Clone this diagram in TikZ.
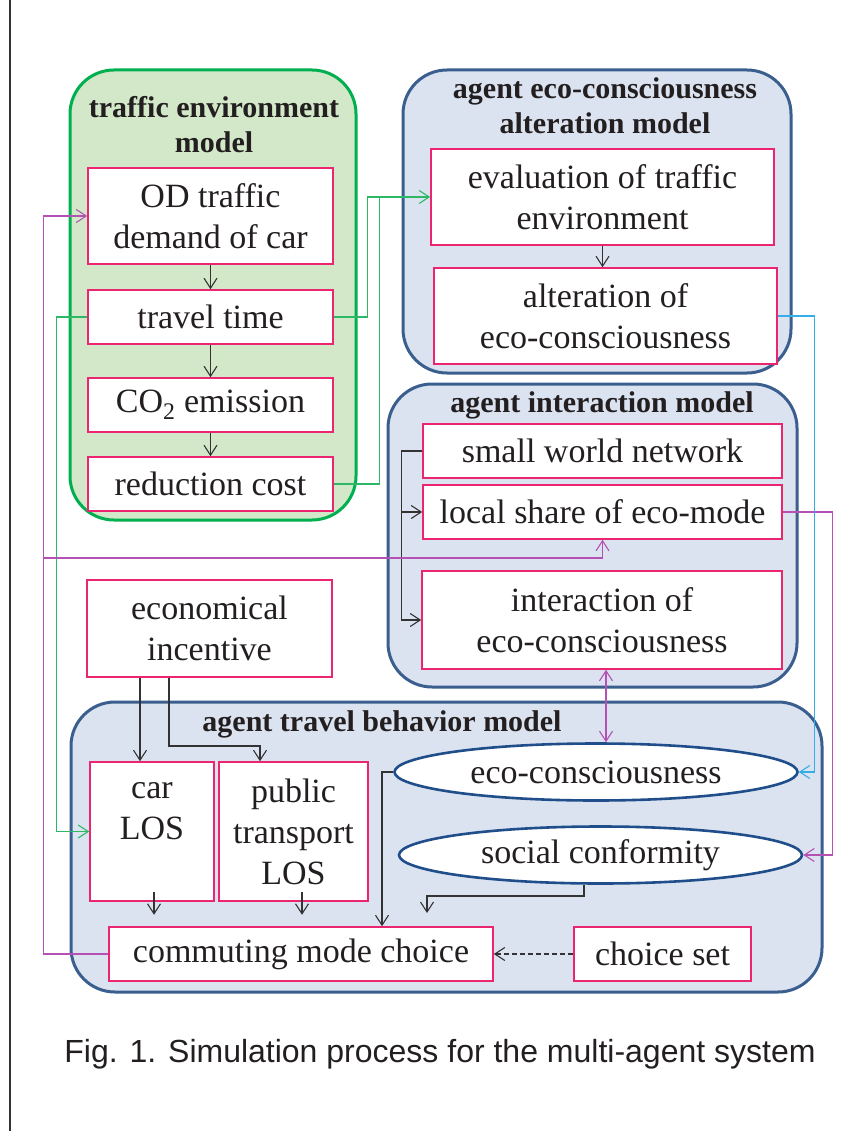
\documentclass[tikz,border=0pt]{standalone}
\usepackage{fontspec}
\setmainfont{Liberation Serif}
\newfontfamily\capfont{Liberation Sans}
\usetikzlibrary{arrows.meta,shapes.geometric,calc}
\definecolor{gborder}{HTML}{00B050}
\definecolor{gfill}{HTML}{D3E8C8}
\definecolor{bborder}{HTML}{3A5F8E}
\definecolor{bfill}{HTML}{DCE3F0}
\definecolor{pink}{HTML}{EC2571}
\definecolor{eborder}{HTML}{1F4E8A}
\definecolor{magline}{HTML}{B550B5}
\definecolor{grline}{HTML}{2DB866}
\definecolor{cyline}{HTML}{35ADE6}
\definecolor{txt}{HTML}{231F20}
\tikzset{
  container/.style={rectangle, rounded corners=44pt, line width=3pt, inner sep=0pt},
  greenbox/.style={container, draw=gborder, fill=gfill},
  bluebox/.style={container, draw=bborder, fill=bfill},
  pbox/.style={rectangle, draw=pink, fill=white, line width=1.6pt, inner sep=0pt, align=center,
     text=txt, font=\fontsize{34}{41}\selectfont},
  ebox/.style={ellipse, draw=eborder, fill=white, line width=2.6pt, inner sep=0pt,
     text=txt, font=\fontsize{34}{41}\selectfont},
  title/.style={align=center, text=txt, font=\bfseries\fontsize{30}{35}\selectfont, inner sep=0pt},
  arr/.style={-{Straight Barb[length=10pt,width=13pt,line width=1.1pt]}, line width=1.1pt},
  barr/.style={arr, draw=black!80},
}
\begin{document}
\begin{tikzpicture}[x=1pt,y=-1pt]
\useasboundingbox (0,0) rectangle (845,1131);
\fill[white] (0,0) rectangle (845,1131);
\draw[line width=1.2pt, black!80] (10,0) -- (10,1131);

% containers
\node[greenbox, minimum width=286pt, minimum height=450pt] (gcont) at (213,295) {};
\node[bluebox, minimum width=388pt, minimum height=303pt] (acont) at (597,221.5) {};
\node[bluebox, minimum width=409pt, minimum height=303pt] (icont) at (592.5,535.5) {};
\node[bluebox, minimum width=751pt, minimum height=290pt] (tcont) at (446.5,847) {};

% titles
\node[title] (gtitle) at (214,125) {traffic environment\\model};
\node[title] (atitle) at (605,106) {agent eco-consciousness\\alteration model};
\node[title] (ititle) at (602,405) {agent interaction model};
\node[title] (ttitle) at (382,724) {agent travel behavior model};

% traffic environment model
\node[pbox, minimum width=245pt, minimum height=96pt] (od) at (210.5,216) {OD traffic\\demand of car};
\node[pbox, minimum width=245pt, minimum height=54pt] (tt) at (210.5,317) {travel time};
\node[pbox, minimum width=245pt, minimum height=54pt] (co2) at (210.5,405) {CO\textsubscript{2} emission};
\node[pbox, minimum width=245pt, minimum height=54pt] (rc) at (210.5,484) {reduction cost};

% alteration model
\node[pbox, minimum width=343pt, minimum height=96pt] (eval) at (602.5,197) {evaluation of traffic\\environment};
\node[pbox, minimum width=343pt, minimum height=96pt] (alt) at (605.5,316) {alteration of\\eco-consciousness};

% interaction model
\node[pbox, minimum width=359pt, minimum height=54pt] (sw) at (602.5,451) {small world network};
\node[pbox, minimum width=359pt, minimum height=54pt] (ls) at (602.5,512) {local share of eco-mode};
\node[pbox, minimum width=360pt, minimum height=98pt] (ia) at (602,620) {interaction of\\eco-consciousness};

% incentive
\node[pbox, minimum width=245pt, minimum height=97pt] (ei) at (209.5,628.5) {economical\\incentive};

% travel behavior model
\node[pbox, minimum width=124pt, minimum height=139pt] (car) at (152,831.5) {car\\LOS\\\mbox{}};
\node[pbox, minimum width=149pt, minimum height=139pt] (pt) at (293.5,831.5) {public\\transport\\LOS};
\node[pbox, minimum width=384pt, minimum height=54pt] (cmc) at (301,954) {commuting mode choice};
\node[pbox, minimum width=177pt, minimum height=54pt] (cs) at (662.5,954) {choice set};
\node[ebox, minimum width=403pt, minimum height=57pt] (eco) at (596,772) {eco-consciousness};
\node[ebox, minimum width=403pt, minimum height=57pt] (soc) at (600.5,855) {social conformity};

% caption
\node[font=\capfont\fontsize{32}{38}\selectfont, text=txt, inner sep=0pt] (cap) at (440,1054) {Fig. 1. Simulation process for the multi-agent system};

% black connectors
\draw[barr] (od) -- (tt);
\draw[barr] (tt) -- (co2);
\draw[barr] (co2) -- (rc);
\draw[barr] (eval.south) -- (eval.south |- alt.north);
\draw[barr] (sw.west) -- ++(-21,0) coordinate (swk) |- (ia.west);
\draw[barr] (swk |- ls.west) -- (ls.west);
\coordinate (x1) at (140,0);
\coordinate (x2) at (169,0);
\coordinate (k1) at (260,746);
\draw[barr] (ei.south -| x1) -- (car.north -| x1);
\draw[barr] (ei.south -| x2) |- (k1) -- (k1 |- pt.north);
\coordinate (x3) at (154,0);
\coordinate (x4) at (302,0);
\draw[barr] ([yshift=10pt]car.south -| x3) -- ++(0,23);
\draw[barr] ([yshift=10pt]pt.south -| x4) -- ++(0,23);
\coordinate (x5) at (382,0);
\draw[barr] (eco.west) -| (x5 |- cmc.north);
\coordinate (k3) at (584,896);
\coordinate (k4) at (427,896);
\draw[barr] (k3 |- soc.south) -- (k3) -- (k4) -- ++(0,17);
\draw[barr, dashed, dash pattern=on 5pt off 3pt] (cs.west) -- (cmc.east);

% green connectors
\draw[arr, draw=grline] (tt.east) -- ++(34,0) |- (eval.west);
\draw[line width=1.1pt, draw=grline] (rc.east) -- ++(46,0) |- ([xshift=-12pt]eval.west);
\draw[arr, draw=grline] (tt.west) -- ++(-31,0) |- (car.west);

% magenta connectors
\draw[arr, draw=magline] (cmc.west) -- ++(-65,0) coordinate (mk) |- (od.west);
\coordinate (my) at (0,558);
\draw[arr, draw=magline] (mk |- my) -| (ls.south);
\draw[arr, draw=magline] (ls.east) -- ++(50,0) |- (soc.east);
\coordinate (x6) at (606,0);
\draw[line width=1.1pt, draw=magline, {Straight Barb[length=10pt,width=13pt,line width=1.1pt]}-{Straight Barb[length=10pt,width=13pt,line width=1.1pt]}] (x6 |- ia.south) -- (x6 |- eco.north);

% cyan connector
\draw[arr, draw=cyline] (alt.east) -- ++(37,0) |- (eco.east);
\end{tikzpicture}
\end{document}
